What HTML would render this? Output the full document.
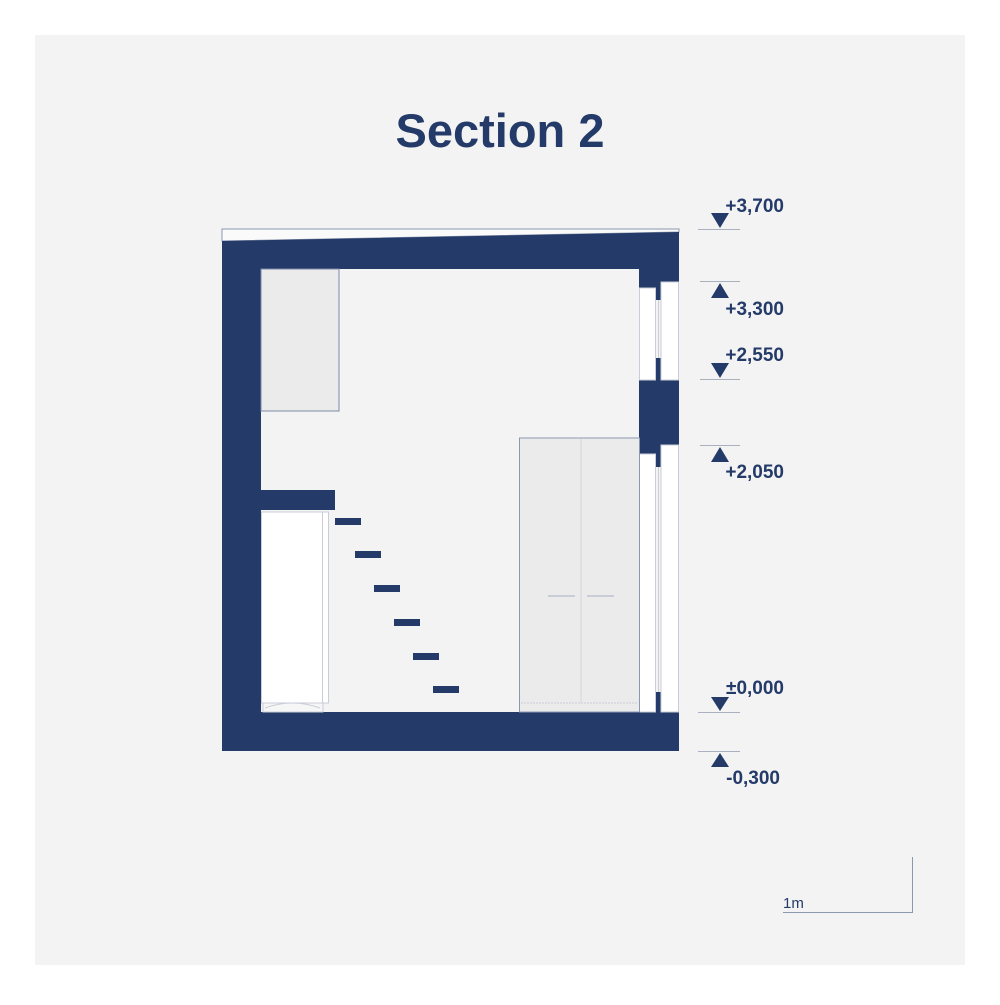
<!DOCTYPE html>
<html><head><meta charset="utf-8"><style>
html,body{margin:0;padding:0;background:#fff;}
body{width:1000px;height:1000px;position:relative;overflow:hidden;font-family:"Liberation Sans",sans-serif;}
</style></head><body>
<svg width="1000" height="1000" viewBox="0 0 1000 1000" xmlns="http://www.w3.org/2000/svg">
<rect x="35" y="35" width="930" height="930" fill="#f3f3f3"/>
<text x="500" y="147" text-anchor="middle" font-family="Liberation Sans, sans-serif" font-weight="bold" font-size="47" fill="#243a68">Section 2</text>
<g fill="#243a68">
<polygon points="222,229 679,229 679,232 222,241" fill="#fafafa" stroke="#8c97b0" stroke-width="1"/>
<polygon points="222,241 679,232 679,288 639,288 639,269 261,269 261,712 679,712 679,751 222,751"/>
<rect x="639" y="380" width="40" height="65"/>
<rect x="639" y="445" width="17" height="9"/>
<rect x="656" y="445" width="5" height="22"/>
<rect x="656" y="288" width="5" height="12"/>
<rect x="656" y="358" width="5" height="22"/>
<rect x="656" y="692" width="5" height="20"/>
</g>
<g fill="#ffffff" stroke="#c9cdd8" stroke-width="1">
<rect x="639.5" y="288" width="16" height="92"/>
<rect x="661" y="282" width="17.5" height="98"/>
<rect x="639.5" y="454" width="16" height="258"/>
<rect x="661" y="445" width="17.5" height="267"/>
</g>
<line x1="658.5" y1="300" x2="658.5" y2="358" stroke="#c9cdd8"/>
<line x1="658.5" y1="467" x2="658.5" y2="692" stroke="#c9cdd8"/>
<rect x="261" y="269" width="78" height="142" fill="#ebebeb" stroke="#7d88a6" stroke-width="1"/>
<rect x="261" y="490" width="74" height="20" fill="#243a68"/>
<rect x="261.5" y="512" width="67" height="191" fill="#fff" stroke="#c9cdd8"/>
<rect x="261.5" y="512" width="61" height="191" fill="#fff" stroke="#c9cdd8"/>
<rect x="263" y="703" width="60" height="9" fill="#f6f6f6" stroke="#c9cdd8"/>
<path d="M265 708 Q292 698 320 708" fill="none" stroke="#c9cdd8"/>
<g fill="#243a68">
<rect x="335" y="518" width="26" height="7"/>
<rect x="355" y="551" width="26" height="7"/>
<rect x="374" y="585" width="26" height="7"/>
<rect x="394" y="619" width="26" height="7"/>
<rect x="413" y="653" width="26" height="7"/>
<rect x="433" y="686" width="26" height="7"/>
</g>
<rect x="519.5" y="438" width="120" height="274" fill="#ebebeb" stroke="#8c97b0"/>
<line x1="581" y1="439" x2="581" y2="703" stroke="#d4d6dc"/>
<line x1="521" y1="703" x2="638" y2="703" stroke="#c9cdd8" stroke-dasharray="2 1"/>
<line x1="548" y1="596" x2="575" y2="596" stroke="#c9cdd8" stroke-width="2"/>
<line x1="587" y1="596" x2="614" y2="596" stroke="#c9cdd8" stroke-width="2"/>
<g stroke="#aab0c0" stroke-width="1">
<line x1="698" y1="229.5" x2="740" y2="229.5"/>
<line x1="700" y1="281.5" x2="740" y2="281.5"/>
<line x1="700" y1="379.5" x2="740" y2="379.5"/>
<line x1="700" y1="445.5" x2="740" y2="445.5"/>
<line x1="698" y1="712.5" x2="740" y2="712.5"/>
<line x1="698" y1="751.5" x2="740" y2="751.5"/>
</g>
<g fill="#243a68">
<polygon points="711,213 729,213 720,228"/>
<polygon points="711,298 729,298 720,283"/>
<polygon points="711,363 729,363 720,378"/>
<polygon points="711,462 729,462 720,447"/>
<polygon points="711,697 729,697 720,711"/>
<polygon points="711,767 729,767 720,753"/>
</g>
<g font-family="Liberation Sans, sans-serif" font-weight="bold" font-size="19" fill="#243a68" text-anchor="end">
<text x="784" y="212">+3,700</text>
<text x="784" y="315">+3,300</text>
<text x="784" y="361">+2,550</text>
<text x="784" y="478">+2,050</text>
<text x="784" y="694">±0,000</text>
<text x="780" y="784">-0,300</text>
</g>
<g stroke="#8c97b0" stroke-width="1">
<line x1="912.5" y1="857" x2="912.5" y2="912"/>
<line x1="783" y1="912.5" x2="913" y2="912.5"/>
</g>
<text x="783" y="908" font-family="Liberation Sans, sans-serif" font-size="15" fill="#243a68">1m</text>
</svg>
</body></html>
